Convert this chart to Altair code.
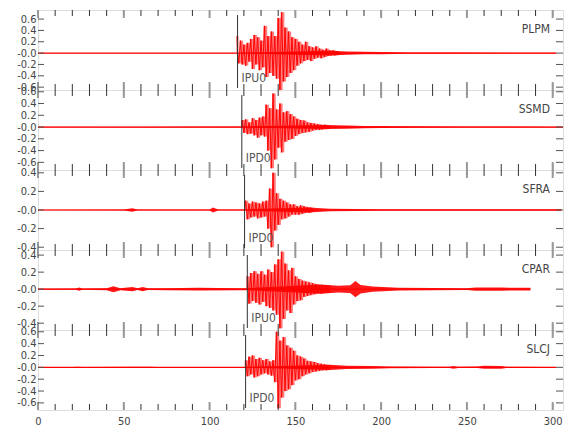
import altair as alt
import pandas as pd

# ---------------- data ----------------
stations = ["PLPM", "SSMD", "SFRA", "CPAR", "SLCJ"]
pick_time = [116.3, 118.8, 120.4, 122.0, 121.0]
pick_label = ["IPU0", "IPD0", "IPD0", "IPU0", "IPD0"]
y_domains = [[-0.65, 0.76], [-0.73, 0.63], [-0.43, 0.43], [-0.48, 0.46], [-0.72, 0.63]]
y_ticks = [[-0.6, -0.4, -0.2, 0.0, 0.2, 0.4, 0.6],
           [-0.6, -0.4, -0.2, 0.0, 0.2, 0.4, 0.6],
           [-0.4, -0.2, 0.0, 0.2, 0.4],
           [-0.4, -0.2, 0.0, 0.2, 0.4],
           [-0.6, -0.4, -0.2, 0.0, 0.2, 0.4, 0.6]]
x_labels = [0, 50, 100, 150, 200, 250, 300]
x_minor = list(range(0, 310, 10))

# strong-motion peaks, one every second from the start time
plpm_start = 116
plpm_peaks = [0.30, -0.18, 0.22, -0.20, 0.15, -0.22, 0.18, -0.15, 0.25, -0.28,
              0.32, -0.20, 0.28, -0.30, 0.22, -0.25, 0.48, -0.42, 0.30, -0.35,
              0.38, -0.40, 0.30, -0.45, 0.62, -0.67, 0.72, -0.50, 0.45, -0.42,
              0.38, -0.35, 0.28, -0.30, 0.25, -0.22, 0.20, -0.18, 0.15, -0.14,
              0.20, -0.12, 0.12, -0.14, 0.10, -0.10, 0.12, -0.08, 0.08, -0.09,
              0.06, -0.07, 0.08, -0.05, 0.05, -0.04, 0.05, -0.04, 0.035, -0.03]
ssmd_start = 119
ssmd_peaks = [0.12, -0.10, 0.13, -0.12, 0.08, -0.11, 0.15, -0.14, 0.12, -0.18,
              0.16, -0.14, 0.18, -0.16, 0.38, -0.40, 0.32, -0.70, 0.57, -0.55,
              0.30, -0.35, 0.40, -0.43, 0.25, -0.25, 0.27, -0.22, 0.22, -0.20,
              0.18, -0.15, 0.14, -0.12, 0.12, -0.10, 0.11, -0.09, 0.08, -0.08,
              0.07, -0.06, 0.06, -0.05, 0.05, -0.05, 0.04, -0.04, 0.04, -0.035,
              0.03, -0.03]
sfra_start = 121
sfra_peaks = [0.10, -0.10, 0.07, -0.08, 0.09, -0.07, 0.08, -0.09, 0.07, -0.08,
              0.09, -0.07, 0.10, -0.20, 0.23, -0.40, 0.40, -0.22, 0.18, -0.16,
              0.12, -0.10, 0.10, -0.09, 0.08, -0.07, 0.06, -0.05, 0.06, -0.05,
              0.04, -0.05, 0.05, -0.04, 0.04, -0.03, 0.03, -0.03, 0.025, -0.02]
cpar_start = 122
cpar_peaks = [0.15, -0.17, 0.19, -0.14, 0.21, -0.16, 0.18, -0.18, 0.21, -0.15,
              0.17, -0.20, 0.23, -0.22, 0.20, -0.25, 0.29, -0.30, 0.35, -0.46,
              0.44, -0.35, 0.30, -0.25, 0.22, -0.28, 0.25, -0.18, 0.15, -0.14,
              0.12, -0.13, 0.10, -0.09, 0.09, -0.08, 0.08, -0.07, 0.07, -0.06,
              0.06, -0.05, 0.05, -0.05, 0.045, -0.04, 0.045, -0.04, 0.04]
slcj_start = 121
slcj_peaks = [0.12, -0.15, 0.18, -0.12, 0.20, -0.17, 0.14, -0.15, 0.16, -0.12,
              0.12, -0.10, 0.14, -0.12, 0.10, -0.14, 0.12, -0.25, 0.60, -0.69,
              0.45, -0.51, 0.51, -0.40, 0.37, -0.37, 0.33, -0.30, 0.28, -0.22,
              0.20, -0.20, 0.18, -0.15, 0.15, -0.12, 0.11, -0.10, 0.10, -0.08,
              0.09, -0.07, 0.07, -0.06, 0.06, -0.05, 0.05, -0.05, 0.04, -0.04]

# low-level noise envelope (time, half-width)
plpm_noise_t = [0, 116, 170, 180, 190, 200, 215, 240, 302]
plpm_noise_h = [0.004, 0.004, 0.04, 0.03, 0.022, 0.018, 0.013, 0.009, 0.007]
ssmd_noise_t = [0, 60, 118, 168, 180, 190, 200, 220, 250, 306]
ssmd_noise_h = [0.004, 0.006, 0.008, 0.035, 0.028, 0.02, 0.016, 0.012, 0.009, 0.007]
sfra_noise_t = [0, 50, 55, 58, 100, 102, 105, 120, 158, 170, 200, 250, 305]
sfra_noise_h = [0.003, 0.005, 0.02, 0.005, 0.006, 0.028, 0.006, 0.006, 0.028, 0.014, 0.009, 0.007, 0.007]
cpar_noise_t = [0, 22, 24, 26, 40, 44, 48, 55, 58, 61, 64, 75, 93, 118, 122, 165, 175,
                182, 185, 188, 195, 210, 250, 255, 270, 287]
cpar_noise_h = [0.006, 0.008, 0.018, 0.008, 0.012, 0.035, 0.012, 0.025, 0.01, 0.025, 0.01,
                0.012, 0.016, 0.012, 0.012, 0.055, 0.04, 0.045, 0.095, 0.05, 0.03, 0.016, 0.01,
                0.02, 0.018, 0.015]
slcj_noise_t = [0, 20, 23, 26, 55, 65, 70, 121, 170, 180, 195, 205, 230, 240, 242, 245,
                256, 260, 270, 273, 302]
slcj_noise_h = [0.003, 0.004, 0.01, 0.004, 0.008, 0.008, 0.004, 0.005, 0.045, 0.028, 0.022,
                0.016, 0.01, 0.01, 0.022, 0.01, 0.012, 0.025, 0.022, 0.01, 0.007]

starts = [plpm_start, ssmd_start, sfra_start, cpar_start, slcj_start]
peaks = [plpm_peaks, ssmd_peaks, sfra_peaks, cpar_peaks, slcj_peaks]
noise_t = [plpm_noise_t, ssmd_noise_t, sfra_noise_t, cpar_noise_t, slcj_noise_t]
noise_h = [plpm_noise_h, ssmd_noise_h, sfra_noise_h, cpar_noise_h, slcj_noise_h]

# ---------------- chart ----------------
W, H = 525, 80
RED = "#ff0000"
FONT = "DejaVu Sans Condensed, Liberation Sans Narrow, sans-serif"
XDOM = [0, 306]
ZERO_EXPR = "datum.value == 0 ? '-0.0' : replace(format(datum.value, '.1f'), '\u2212', '-')"

panels = []
for i, sta in enumerate(stations):
    xs = alt.Scale(domain=XDOM, nice=False, zero=False)
    ys = alt.Scale(domain=y_domains[i], nice=False, zero=False)
    last = i == len(stations) - 1
    if last:
        xaxis = alt.Axis(values=x_labels, ticks=False, domain=False, grid=False,
                         labelPadding=5, labelFontSize=11, labelColor="#444",
                         labelFont=FONT, title=None, labelFlush=False)
    else:
        xaxis = None
    yaxis = alt.Axis(values=y_ticks[i], ticks=False, domain=False, grid=False,
                     labelPadding=2, labelFontSize=11, labelColor="#444",
                     labelFont=FONT, title=None, labelOverlap=False, labelBound=False,
                     labelFlush=False, labelExpr=ZERO_EXPR)

    def X(field):
        return alt.X(field, scale=xs, axis=xaxis)

    def Y(field):
        return alt.Y(field, scale=ys, axis=yaxis)

    band = pd.DataFrame({"t": noise_t[i], "h": noise_h[i]})
    band["lo"] = -band["h"]
    base = pd.DataFrame({"t": [0], "t2": [noise_t[i][-1]], "v": [0.0]})
    zz = pd.DataFrame({"t": [starts[i] + k for k in range(len(peaks[i]))], "v": peaks[i]})
    zz = pd.concat([pd.DataFrame({"t": [pick_time[i]], "v": [0.0]}), zz], ignore_index=True)
    pk = pd.DataFrame({"t": [pick_time[i]], "lab": [pick_label[i]]})
    st = pd.DataFrame({"sta": [sta]})
    xt = pd.DataFrame({"t": x_minor})
    xt_major = pd.DataFrame({"t": x_labels})
    yt = pd.DataFrame({"v": y_ticks[i]})

    base_line = alt.Chart(base).mark_rule(color=RED, strokeWidth=1.2).encode(
        x=X("t:Q"), x2="t2:Q", y=Y("v:Q"))
    band_area = alt.Chart(band).mark_area(color=RED, opacity=0.9, clip=True).encode(
        x=X("t:Q"), y=Y("lo:Q"), y2="h:Q")
    swing = alt.Chart(zz).transform_window(prev="lag(v)", sort=[alt.SortField("t")]).transform_filter(
        "datum.prev != null").mark_rule(color=RED, strokeWidth=2, opacity=0.5).encode(
        x=X("t:Q"), y=Y("v:Q"), y2="prev:Q")
    trace = alt.Chart(zz).mark_line(color=RED, strokeWidth=1, opacity=0.95, clip=True).encode(
        x=X("t:Q"), y=Y("v:Q"))
    pick_line = alt.Chart(pk).mark_rule(color="#333", strokeWidth=1).encode(
        x=X("t:Q"), y=alt.value(5), y2=alt.value(H - 2))
    pick_text = alt.Chart(pk).mark_text(align="left", baseline="middle", dx=4, fontSize=12,
                                        font=FONT, color="#555").encode(
        x=X("t:Q"), y=alt.value(H - 12), text="lab:N")
    sta_text = alt.Chart(st).mark_text(align="right", baseline="middle", fontSize=12,
                                       font=FONT, color="#444").encode(
        x=alt.value(W - 13), y=alt.value(19), text="sta:N")
    top_minor = alt.Chart(xt).mark_rule(color="#333", strokeWidth=1).encode(
        x=X("t:Q"), y=alt.value(0), y2=alt.value(6))
    bot_minor = alt.Chart(xt).mark_rule(color="#333", strokeWidth=1).encode(
        x=X("t:Q"), y=alt.value(H - 6), y2=alt.value(H))
    top_major = alt.Chart(xt_major).mark_rule(color="#999", strokeWidth=2).encode(
        x=X("t:Q"), y=alt.value(0), y2=alt.value(8))
    bot_major = alt.Chart(xt_major).mark_rule(color="#999", strokeWidth=2).encode(
        x=X("t:Q"), y=alt.value(H - 8), y2=alt.value(H))
    left_t = alt.Chart(yt).mark_rule(color="#555", strokeWidth=1).encode(
        y=Y("v:Q"), x=alt.value(0), x2=alt.value(6))
    right_t = alt.Chart(yt).mark_rule(color="#555", strokeWidth=1).encode(
        y=Y("v:Q"), x=alt.value(W - 7), x2=alt.value(W))

    panel = alt.layer(base_line, band_area, swing, trace, top_minor, bot_minor, top_major,
                      bot_major, left_t, right_t, pick_line, pick_text,
                      sta_text).properties(width=W, height=H)
    panels.append(panel)

chart = alt.vconcat(*panels, spacing=0, bounds="flush").properties(
    padding={"left": 8, "top": 0, "right": 5, "bottom": 5}
).configure_view(stroke="#aaa", strokeWidth=2).configure(background="white")

chart.save("out.html", embed_options={"renderer": "svg", "actions": False})
